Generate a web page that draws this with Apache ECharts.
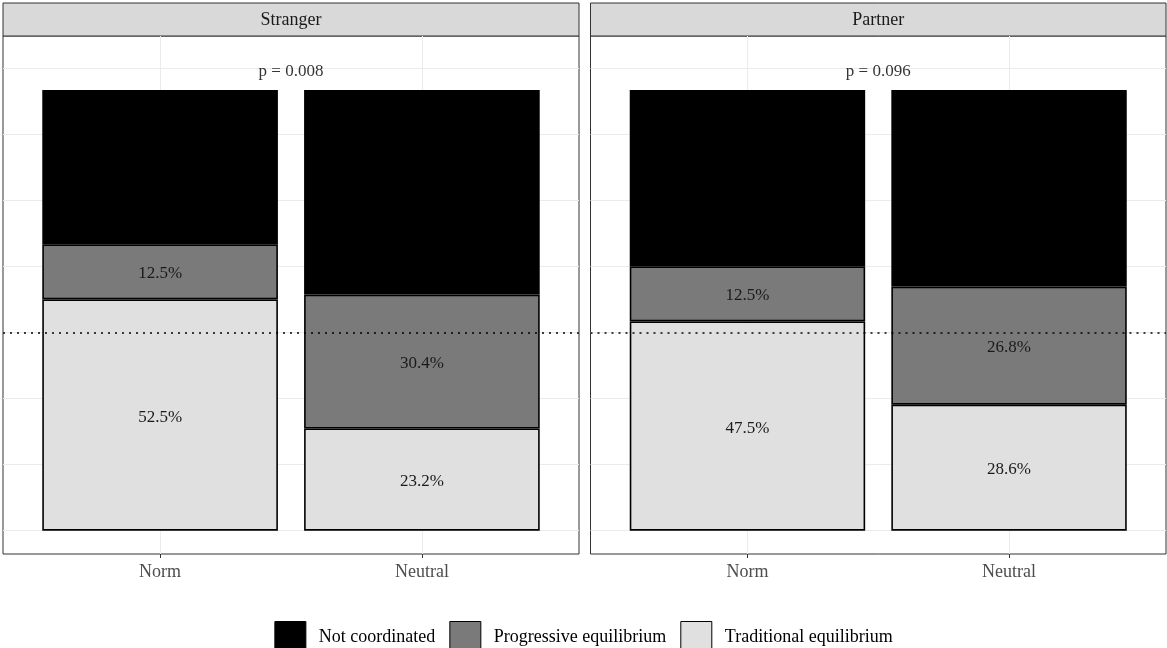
<!DOCTYPE html>
<html>
<head>
<meta charset="utf-8">
<script src="https://cdn.jsdelivr.net/npm/echarts@6/dist/echarts.min.js"></script>
<style>
html,body{margin:0;padding:0;background:#fff;}
#chart{width:1167px;height:648px;}
</style>
</head>
<body>
<div id="chart"></div>
<script>
// ---- data ----
var categories = ['Norm', 'Neutral'];
var panels = ['Stranger', 'Partner'];
var pLabels = ['p = 0.008', 'p = 0.096'];
var seriesNames = ['Not coordinated', 'Progressive equilibrium', 'Traditional equilibrium'];
// percentages per panel, per category [Norm, Neutral]
var strangerTraditional = [52.5, 23.2];
var strangerProgressive = [12.5, 30.4];
var strangerNotCoord    = [35.0, 46.4];
var partnerTraditional  = [47.5, 28.6];
var partnerProgressive  = [12.5, 26.8];
var partnerNotCoord     = [40.0, 44.6];
var gridValues = [0, 15, 30, 45, 60, 75, 90, 105];
var referenceLine = 45;
var pLabelY = 104.3;

// ---- styling ----
var FONT = 'Liberation Serif';
var colors = {
  'Not coordinated': '#000000',
  'Progressive equilibrium': '#7a7a7a',
  'Traditional equilibrium': '#e0e0e0'
};
var panelData = [
  {trad: strangerTraditional, prog: strangerProgressive, nc: strangerNotCoord},
  {trad: partnerTraditional, prog: partnerProgressive, nc: partnerNotCoord}
];
var gridsPos = [
  {left: 3, width: 576},
  {left: 590.5, width: 575.5}
];
var TOP = 36, HEIGHT = 518;
var YMIN = -5.29, YMAX = 112.28;

var chart = echarts.init(document.getElementById('chart'));

var grids = [], xAxes = [], yAxes = [], series = [], graphics = [];
panels.forEach(function (p, i) {
  var L = gridsPos[i].left, W = gridsPos[i].width;
  var unit = W / 2.2;            // x range 0.4 .. 2.6
  // panel grid (index 2i)
  grids.push({
    left: L, top: TOP, width: W, height: HEIGHT,
    show: true, borderColor: '#333333', borderWidth: 1, backgroundColor: '#ffffff'
  });
  // bar grid (index 2i+1): two category bands centred on x = 1 and x = 2
  grids.push({
    left: L + 0.1 * unit, top: TOP, width: 2 * unit, height: HEIGHT, show: false
  });
  xAxes.push({
    type: 'value', gridIndex: 2 * i, min: 0.4, max: 2.6,
    axisLine: {show: false, onZero: false},
    axisTick: {show: true, customValues: [1, 2], length: 4, lineStyle: {color: '#333333', width: 1}},
    axisLabel: {show: true, customValues: [1, 2], margin: 9,
      formatter: function (v) { return categories[Math.round(v) - 1] || ''; },
      color: '#4d4d4d', fontSize: 18, fontFamily: FONT},
    splitLine: {show: false}
  });
  xAxes.push({
    type: 'category', gridIndex: 2 * i + 1, data: categories, show: false
  });
  yAxes.push({
    type: 'value', gridIndex: 2 * i, min: YMIN, max: YMAX,
    axisLine: {show: false}, axisTick: {show: false}, axisLabel: {show: false}, splitLine: {show: false}
  });
  yAxes.push({
    type: 'value', gridIndex: 2 * i + 1, min: YMIN, max: YMAX, show: false, splitLine: {show: false}
  });
  // background grid lines + p label
  series.push({
    type: 'scatter', xAxisIndex: 2 * i, yAxisIndex: 2 * i, z: 1,
    data: [[1.5, pLabelY]],
    symbolSize: 1,
    itemStyle: {color: 'rgba(0,0,0,0)'},
    label: {show: true, position: 'inside', formatter: pLabels[i], color: '#000000', fontSize: 17, fontFamily: FONT},
    silent: true,
    markLine: {
      silent: true, symbol: 'none', animation: false, z: 1,
      label: {show: false},
      lineStyle: {color: '#ebebeb', type: 'solid', width: 1},
      data: gridValues.map(function (v) { return {yAxis: v}; }).concat([{xAxis: 1}, {xAxis: 2}])
    }
  });
  var d = panelData[i];
  var stacks = [
    {name: 'Traditional equilibrium', vals: d.trad, lab: true},
    {name: 'Progressive equilibrium', vals: d.prog, lab: true},
    {name: 'Not coordinated', vals: d.nc, lab: false}
  ];
  stacks.forEach(function (s) {
    series.push({
      type: 'bar', name: s.name, xAxisIndex: 2 * i + 1, yAxisIndex: 2 * i + 1, stack: 'p' + i, z: 3,
      barWidth: '90%',
      data: s.vals,
      itemStyle: {color: colors[s.name], borderColor: '#000000', borderWidth: 1.6},
      label: {show: s.lab, position: 'inside', color: '#1a1a1a', fontSize: 17, fontFamily: FONT,
        offset: [0, 2],
        formatter: function (pr) { return pr.value.toFixed(1) + '%'; }}
    });
  });
  // dotted reference line (on top)
  series.push({
    type: 'line', xAxisIndex: 2 * i, yAxisIndex: 2 * i, z: 6, data: [], silent: true,
    markLine: {
      silent: true, symbol: 'none', animation: false, z: 6, label: {show: false},
      lineStyle: {color: '#000000', type: [2, 5], width: 1.5},
      data: [{yAxis: referenceLine}]
    }
  });
  // strip header
  graphics.push({
    type: 'rect', silent: true,
    shape: {x: L, y: 3, width: W, height: TOP - 3},
    style: {fill: '#d9d9d9', stroke: '#333333', lineWidth: 1}
  });
  graphics.push({
    type: 'text', silent: true,
    x: L + W / 2, y: 4 + (TOP - 3) / 2,
    style: {text: p, fill: '#1a1a1a', font: '18px "' + FONT + '"', textAlign: 'center', textVerticalAlign: 'middle'}
  });
});

chart.setOption({
  animation: false,
  grid: grids,
  xAxis: xAxes,
  yAxis: yAxes,
  series: series,
  graphic: graphics,
  legend: {
    data: seriesNames,
    left: 'center', top: 616,
    icon: 'rect', itemWidth: 31, itemHeight: 31, itemGap: 14,
    itemStyle: {borderColor: '#000000', borderWidth: 1},
    textStyle: {color: '#000000', fontSize: 18, fontFamily: FONT, padding: [0, 0, 0, 8]},
    selectedMode: false
  }
});
</script>
</body>
</html>
